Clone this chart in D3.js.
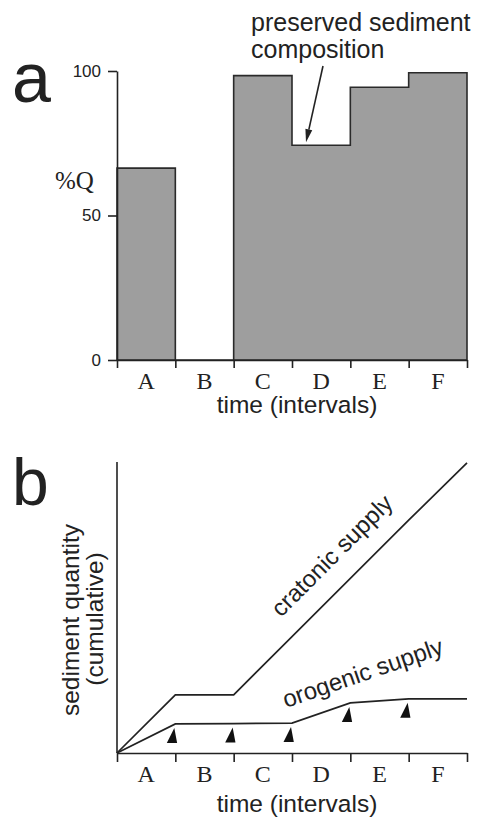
<!DOCTYPE html>
<html>
<head>
<meta charset="utf-8">
<script src="https://cdn.jsdelivr.net/npm/d3@7"></script>
<style>
  body { margin: 0; background: #fff; }
  text { fill: #222; }
</style>
</head>
<body>
<script>
// intervals and values
var intervals = ["A", "B", "C", "D", "E", "F"];
var pctQ = [66.4, 0, 98.4, 74.3, 94.4, 99.4];
var yTicksA = [0, 50, 100];

// panel b: cumulative curves, knots at interval boundaries (0..6)
var boundaries = [0, 1, 2, 3, 4, 5, 6];
var cratonic = [0, 20, 20, 40, 60, 80, 99.7];
var orogenic = [0, 10, 10.1, 10.3, 17.2, 18.6, 18.6];
var markerAt = [1, 2, 3, 4, 5];

var W = 479, H = 817;
var svg = d3.select("body").append("svg")
    .attr("width", W).attr("height", H);

var sans = "Liberation Sans, Arial, Helvetica, sans-serif";
var serif = "Liberation Serif, Times New Roman, serif";
var ink = "#222";

var x = d3.scaleLinear().domain([0, 6]).range([117, 467]);

// ---------- panel a ----------
var ya = d3.scaleLinear().domain([0, 100]).range([360, 71]);
var ga = svg.append("g");

// stepped outline: one value per interval, last value repeated to close at x=6
var stepPts = pctQ.map(function(d, i){ return [i, d]; });
stepPts.push([6, pctQ[pctQ.length - 1]]);

var area = d3.area()
  .curve(d3.curveStepAfter)
  .x(function(d){ return x(d[0]); })
  .y0(ya(0))
  .y1(function(d){ return ya(d[1]); });

ga.append("path").attr("d", area(stepPts))
  .style("fill", "#9e9e9e")
  .style("stroke", "#2a2a2a")
  .style("stroke-width", 1.6)
  .style("stroke-linejoin", "miter");

var yAxisA = d3.axisLeft(ya).tickValues(yTicksA).tickSize(9).tickSizeOuter(0).tickPadding(7);
var gy = ga.append("g").attr("transform", "translate(" + x(0) + ",0)").call(yAxisA);
gy.selectAll("text").style("font-family", sans).style("font-size", "17px").style("fill", ink);

var xAxisA = d3.axisBottom(x).ticks(6).tickSize(8).tickSizeOuter(0).tickFormat("");
ga.append("g").attr("transform", "translate(0," + ya(0) + ")").call(xAxisA);

svg.selectAll(".domain, .tick line").style("stroke", ink).style("stroke-width", 1.6);

ga.selectAll("text.lab")
  .data(intervals)
  .enter().append("text")
    .attr("class", "lab")
    .attr("x", function(d, i){ return x(i + 0.5); })
    .attr("y", 389)
    .attr("text-anchor", "middle")
    .style("font-family", serif).style("font-size", "24px")
    .text(function(d){ return d; });

ga.append("text").attr("x", 297).attr("y", 413).attr("text-anchor", "middle")
  .style("font-family", sans).style("font-size", "24.5px").text("time (intervals)");

ga.append("text").attr("x", 55).attr("y", 189)
  .style("font-family", serif).style("font-size", "25px").text("%Q");

ga.append("text").attr("x", 12).attr("y", 102)
  .style("font-family", sans).style("font-size", "70px").text("a");

// annotation
ga.append("text").attr("x", 251).attr("y", 31)
  .style("font-family", sans).style("font-size", "25px").text("preserved sediment");
ga.append("text").attr("x", 251).attr("y", 58)
  .style("font-family", sans).style("font-size", "25px").text("composition");

var tip = [x(3.24), ya(pctQ[3]) - 3], tail = [323, 66];
var ang = Math.atan2(tip[1] - tail[1], tip[0] - tail[0]);
var hl = 13, hw = 3.5;
var bx = tip[0] - hl * Math.cos(ang), by = tip[1] - hl * Math.sin(ang);
ga.append("line")
  .attr("x1", tail[0]).attr("y1", tail[1]).attr("x2", bx).attr("y2", by)
  .style("stroke", ink).style("stroke-width", 1.6);
ga.append("path")
  .attr("d", "M" + tip + "L" + [bx + hw * Math.sin(ang), by - hw * Math.cos(ang)] +
             "L" + [bx - hw * Math.sin(ang), by + hw * Math.cos(ang)] + "Z")
  .style("fill", ink);

// ---------- panel b ----------
var yb = d3.scaleLinear().domain([0, 100]).range([753, 462]);
var gb = svg.append("g");

gb.append("line").attr("x1", x(0)).attr("x2", x(0)).attr("y1", yb(0)).attr("y2", yb(100))
  .style("stroke", ink).style("stroke-width", 1.6);

var xAxisB = d3.axisBottom(x).ticks(6).tickSize(9).tickSizeOuter(0).tickFormat("");
gb.append("g").attr("transform", "translate(0," + yb(0) + ")").call(xAxisB);
gb.selectAll(".domain, .tick line").style("stroke", ink).style("stroke-width", 1.6);

var line = d3.line()
  .x(function(d){ return x(d[0]); })
  .y(function(d){ return yb(d[1]); });

gb.append("path").attr("d", line(d3.zip(boundaries, cratonic)))
  .style("fill", "none").style("stroke", ink).style("stroke-width", 1.7);
gb.append("path").attr("d", line(d3.zip(boundaries, orogenic)))
  .style("fill", "none").style("stroke", ink).style("stroke-width", 1.7);

gb.selectAll("path.mark")
  .data(markerAt)
  .enter().append("path")
    .attr("class", "mark")
    .attr("d", function(t){
      var px = x(t), py = yb(orogenic[t]);
      return "M" + [px - 1, py + 4] + "L" + [px + 1.8, py + 19] + "L" + [px - 8.5, py + 19] + "Z";
    })
    .style("fill", "#111");

gb.selectAll("text.lab")
  .data(intervals)
  .enter().append("text")
    .attr("class", "lab")
    .attr("x", function(d, i){ return x(i + 0.5); })
    .attr("y", 782)
    .attr("text-anchor", "middle")
    .style("font-family", serif).style("font-size", "24px")
    .text(function(d){ return d; });

gb.append("text").attr("x", 297).attr("y", 812).attr("text-anchor", "middle")
  .style("font-family", sans).style("font-size", "24.5px").text("time (intervals)");

gb.append("text").attr("x", 12).attr("y", 505)
  .style("font-family", sans).style("font-size", "66px").text("b");

gb.append("text").attr("transform", "translate(79,620) rotate(-90)").attr("text-anchor", "middle")
  .style("font-family", sans).style("font-size", "24.5px").text("sediment quantity");
gb.append("text").attr("transform", "translate(103,619) rotate(-90)").attr("text-anchor", "middle")
  .style("font-family", sans).style("font-size", "24.5px").text("(cumulative)");

gb.append("text").attr("transform", "translate(281,618) rotate(-45)")
  .style("font-family", sans).style("font-size", "24px").text("cratonic supply");
gb.append("text").attr("transform", "translate(286,708) rotate(-19)")
  .style("font-family", sans).style("font-size", "24px").text("orogenic supply");
</script>
</body>
</html>
